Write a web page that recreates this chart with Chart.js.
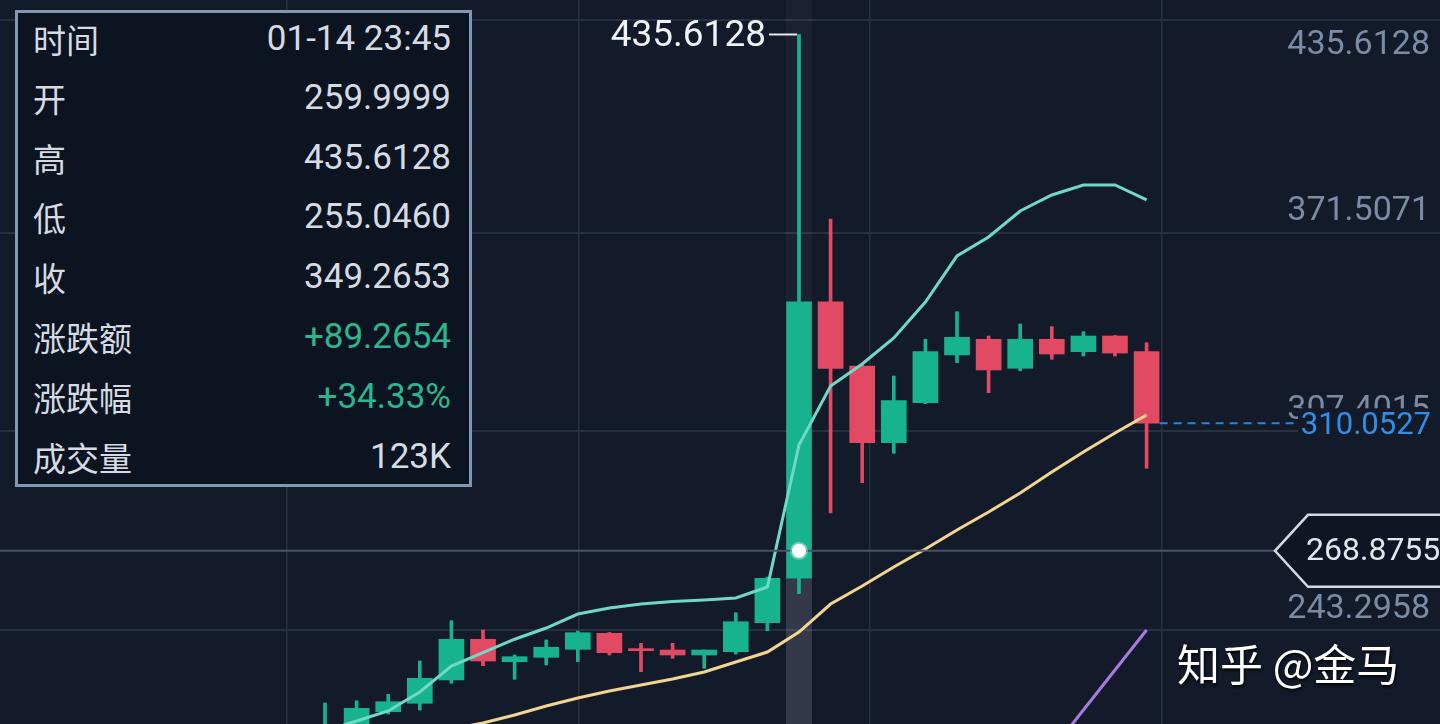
<!DOCTYPE html>
<html>
<head>
<meta charset="utf-8">
<script src="https://cdn.jsdelivr.net/npm/chart.js@4.4.1/dist/chart.umd.min.js"></script>
<style>
html,body{margin:0;padding:0;background:#131a29;width:1440px;height:724px;overflow:hidden;}
#wrap{position:relative;width:1440px;height:724px;}
#c{position:absolute;left:0;top:0;}
#info{position:absolute;left:15px;top:10px;width:451px;height:471px;border:3px solid #8397b4;background:#0d1421;}
.row{position:absolute;left:33px;width:418px;height:50px;line-height:50px;}
.lab{position:absolute;left:0;top:0;font-family:"Noto Sans CJK SC","Noto Sans",sans-serif;font-size:33px;color:#d6dbe3;}
.val{position:absolute;right:0;top:0;font-family:Roboto,"Noto Sans",sans-serif;font-size:35px;color:#d6dbe3;}
.up{color:#2cb68e;}
#wm{position:absolute;left:1177px;top:634px;font-family:"Noto Sans CJK SC",sans-serif;font-size:43px;color:#ffffff;text-shadow:1px 2px 3px rgba(0,0,0,0.85);white-space:nowrap;line-height:56px;}
</style>
</head>
<body>
<div id="wrap">
<canvas id="c" width="1440" height="724"></canvas>
<div id="info"></div>
<div id="wm">知乎 @金马</div>
</div>
<script>
// ---------- data ----------
const candleIndex = [0,1,2,3,4,5,6,7,8,9,10,11,12,13,14,15,16,17,18,19,20,21,22,23,24,25,26];
const opens  = [208.00,212.00,216.91,219.63,227.15,240.29,233.06,234.48,237.06,242.23,236.84,236.84,235.22,236.29,245.65,259.9999,349.2653,328.55,303.78,316.70,332.11,337.18,327.81,337.18,333.17,338.24,333.17];
const highs  = [219.72,220.45,222.53,233.28,246.30,243.30,235.22,240.07,242.97,242.49,238.99,238.99,236.84,248.88,260.40,435.6128,376.03,328.80,325.32,337.18,346.09,338.24,342.12,341.25,339.63,338.40,336.08];
const lows   = [205.00,210.50,216.17,217.46,226.08,231.77,227.37,232.00,233.06,235.22,229.83,234.16,230.93,235.55,243.07,255.0460,281.08,290.87,300.36,316.40,329.62,319.93,327.03,330.72,331.78,331.78,295.52];
const closes = [212.00,218.01,220.14,227.70,240.29,233.28,234.67,237.71,242.42,235.97,236.62,235.22,236.84,245.98,259.9999,349.2653,327.81,303.78,317.35,333.17,337.82,327.27,337.18,332.43,338.24,332.74,310.0527];
const ma1 = [210.68,213.91,217.14,223.27,231.67,236.00,240.32,243.94,248.46,250.40,251.69,252.50,252.98,253.63,257.18,303.04,322.09,329.20,337.59,349.22,364.08,370.21,378.61,383.78,387.01,387.01,382.17];
const ma2 = [null,null,null,209.39,211.32,213.26,215.84,218.75,221.34,223.60,225.53,227.47,229.73,232.96,236.19,242.65,251.69,257.51,263.64,269.45,275.59,281.40,287.54,294.32,300.78,306.91,312.73];
const ma3 = [null,null,null,null,null,null,null,null,null,null,null,null,null,null,null,null,null,null,null,null,null,null,null,204.54,217.46,230.38,243.30];

const yTicks = [440.29, 371.5071, 307.4015, 243.2958];
const yTickLabels = ['', '371.5071', '307.4015', '243.2958'];
const yTopTicks = [435.6128];
const yTopLabels = ['435.6128'];
const xGridTicks = [-1.2, 8.04, 17.25, 26.49];

const selectedIndex = 15;
const selectedTime = '01-14 23:45';
const selectedVolume = '123K';
const crossValue = 268.8755;
const infoLabels = ['时间','开','高','低','收','涨跌额','涨跌幅','成交量'];

// ---------- styles ----------
const UP = '#17b38e', DOWN = '#e24a64';
const BG = '#131a29';
const GRID = '#283142';
const xMin = -10.285, xMax = 35.285, yMin = 212.94, yMax = 446.75;

// ---------- info box ----------
const f4 = v => v.toFixed(4);
const sO = opens[selectedIndex], sH = highs[selectedIndex], sL = lows[selectedIndex], sC = closes[selectedIndex];
const prevC = closes[selectedIndex-1];
const chg = sC - prevC;
const pct = chg / prevC * 100;
const infoValues = [selectedTime, f4(sO), f4(sH), f4(sL), f4(sC), (chg>=0?'+':'')+f4(chg), (pct>=0?'+':'')+pct.toFixed(2)+'%', selectedVolume];
const rowCenters = [41,100,160,219,279,339,399,459];
const info = document.getElementById('info');
infoLabels.forEach((lab,i)=>{
  const r = document.createElement('div');
  r.className='row';
  r.style.top = (rowCenters[i]-13-25-2)+'px';
  r.style.left = '15px';
  const a = document.createElement('span'); a.className='lab'; a.textContent=lab;
  const b = document.createElement('span'); b.className='val'+((i===5||i===6)?' up':''); b.textContent=infoValues[i];
  r.appendChild(a); r.appendChild(b); info.appendChild(r);
});

// ---------- datasets ----------
const col = candleIndex.map(i => closes[i] >= opens[i] ? UP : DOWN);
const wickData = candleIndex.map(i => ({x:i, y:[lows[i], highs[i]]}));
const bodyData = candleIndex.map(i => ({x:i, y:[opens[i], closes[i]]}));
const toPts = arr => candleIndex.map(i => ({x:i, y:arr[i]}));

const bgPlugin = {
  id:'bg',
  beforeDraw(chart){
    const ctx = chart.ctx; ctx.save(); ctx.fillStyle = BG; ctx.fillRect(0,0,chart.width,chart.height); ctx.restore();
  }
};

const bandPlugin = {
  id:'band',
  beforeDatasetsDraw(chart){
    const {ctx, scales:{x,y}, chartArea} = chart;
    const px = x.getPixelForValue(selectedIndex);
    const bodyBottom = y.getPixelForValue(Math.min(opens[selectedIndex], closes[selectedIndex]));
    ctx.save();
    ctx.fillStyle = 'rgba(170,180,200,0.05)';
    ctx.fillRect(px-13, chartArea.top, 26, chartArea.bottom-chartArea.top);
    ctx.fillStyle = 'rgba(170,180,205,0.17)';
    ctx.fillRect(px-13, bodyBottom, 26, chartArea.bottom-bodyBottom);
    ctx.restore();
  }
};

const overlayPlugin = {
  id:'overlay',
  afterDatasetsDraw(chart){
    const {ctx, scales:{x,y}, chartArea} = chart;
    const px = x.getPixelForValue(selectedIndex);
    const cy = y.getPixelForValue(crossValue);
    ctx.save();
    // crosshair horizontal line
    ctx.strokeStyle = '#4a5366'; ctx.lineWidth = 2;
    ctx.beginPath(); ctx.moveTo(0, cy); ctx.lineTo(1275, cy); ctx.stroke();
    // white dot
    ctx.fillStyle = 'rgba(255,255,255,0.35)';
    ctx.beginPath(); ctx.arc(px, cy, 9, 0, Math.PI*2); ctx.fill();
    ctx.fillStyle = '#ffffff';
    ctx.beginPath(); ctx.arc(px, cy, 7, 0, Math.PI*2); ctx.fill();
    // crosshair label with arrow
    ctx.fillStyle = '#0f1623'; ctx.strokeStyle = '#d3d9e2'; ctx.lineWidth = 2.5;
    ctx.beginPath();
    ctx.moveTo(1450, cy-36); ctx.lineTo(1308, cy-36); ctx.lineTo(1275, cy); ctx.lineTo(1308, cy+36); ctx.lineTo(1450, cy+36);
    ctx.closePath(); ctx.fill(); ctx.stroke();
    ctx.fillStyle = '#e3e7ed'; ctx.font = '32px Roboto'; ctx.textAlign='left'; ctx.textBaseline='middle';
    ctx.fillText(crossValue.toFixed(4), 1306, cy+1);
    // high annotation
    const hy = y.getPixelForValue(highs[selectedIndex]);
    ctx.strokeStyle = '#e6e9ee'; ctx.lineWidth = 2;
    ctx.beginPath(); ctx.moveTo(px-30, hy); ctx.lineTo(px-2, hy); ctx.stroke();
    ctx.fillStyle = '#f0f2f5'; ctx.font = '37px Roboto'; ctx.textAlign='right'; ctx.textBaseline='middle';
    ctx.fillText(highs[selectedIndex].toFixed(4), px-33, hy+2);
    // last price line and label
    const last = closes[closes.length-1];
    const ly = y.getPixelForValue(last);
    const lx = x.getPixelForValue(candleIndex[candleIndex.length-1]);
    ctx.strokeStyle = '#2f82d6'; ctx.lineWidth = 2; ctx.setLineDash([8,6]);
    ctx.beginPath(); ctx.moveTo(lx+13, ly); ctx.lineTo(1298, ly); ctx.stroke();
    ctx.setLineDash([]);
    ctx.fillStyle = BG; ctx.fillRect(1298, ly-15, 142, 34);
    ctx.fillStyle = '#2f8fe8'; ctx.font = '31px Roboto'; ctx.textAlign='right'; ctx.textBaseline='middle';
    ctx.fillText(last.toFixed(4), 1431, ly+3);
    ctx.restore();
  }
};

const zeroPad = s => { s.paddingTop = 0; s.paddingBottom = 0; s.paddingLeft = 0; s.paddingRight = 0; };

new Chart(document.getElementById('c'), {
  type: 'bar',
  data: {
    datasets: [
      {type:'line', data: toPts(ma1), borderColor:'#6fd8c8', borderWidth:3, pointRadius:0, tension:0, order:0},
      {type:'line', data: toPts(ma2), borderColor:'#f2d690', borderWidth:3, pointRadius:0, tension:0, order:0},
      {type:'line', data: toPts(ma3), borderColor:'#a67be2', borderWidth:3, pointRadius:0, tension:0, order:0},
      {type:'bar', data: bodyData, backgroundColor: col, barThickness:25, grouped:false, minBarLength:2, order:1},
      {type:'bar', data: wickData, backgroundColor: col, barThickness:3, grouped:false, order:2}
    ]
  },
  options: {
    responsive:false, maintainAspectRatio:false, animation:false, events:[],
    layout:{padding:0},
    plugins:{legend:{display:false}, tooltip:{enabled:false}},
    scales:{
      x:{type:'linear', min:xMin, max:xMax, offset:false,
         afterFit:s=>{s.height=0; zeroPad(s);},
         afterBuildTicks:s=>{s.ticks = xGridTicks.map(v=>({value:v}));},
         ticks:{display:false}, grid:{color:GRID, lineWidth:1.5, drawTicks:false, offset:false}, border:{display:false}},
      y:{type:'linear', position:'right', min:yMin, max:yMax,
         afterFit:s=>{s.width=0; zeroPad(s);},
         afterBuildTicks:s=>{s.ticks = yTicks.map(v=>({value:v}));},
         ticks:{mirror:true, padding:-10, labelOffset:-21, autoSkip:false, color:'#7c8ba4',
                font:{family:'Roboto', size:34}, callback:(v,i)=>yTickLabels[i]},
         grid:{color:GRID, lineWidth:2, drawTicks:false}, border:{display:false}},
      y2:{type:'linear', position:'right', min:yMin, max:yMax,
         afterFit:s=>{s.width=0; zeroPad(s);},
         afterBuildTicks:s=>{s.ticks = yTopTicks.map(v=>({value:v}));},
         ticks:{mirror:true, padding:-10, labelOffset:11, autoSkip:false, color:'#7c8ba4',
                font:{family:'Roboto', size:34}, callback:(v,i)=>yTopLabels[i]},
         grid:{display:false, drawTicks:false}, border:{display:false}}
    }
  },
  plugins:[bgPlugin, bandPlugin, overlayPlugin]
});
</script>
</body>
</html>
